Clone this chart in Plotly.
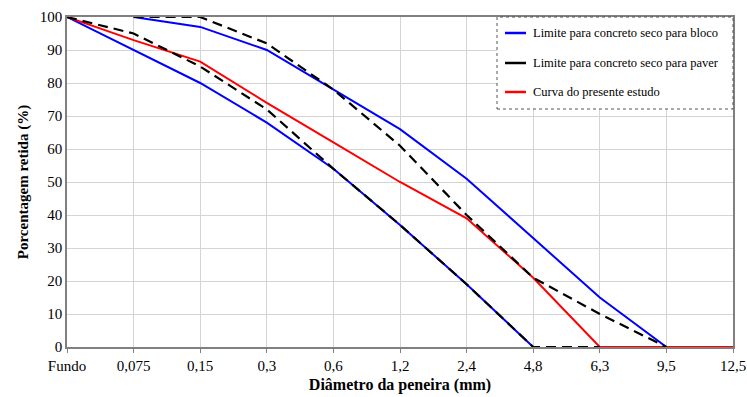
import plotly.graph_objects as go

categories = ["Fundo", "0,075", "0,15", "0,3", "0,6", "1,2", "2,4", "4,8", "6,3", "9,5", "12,5"]

bloco_sup_x = ["0,075", "0,15", "0,3", "0,6", "1,2", "2,4", "4,8", "6,3", "9,5"]
bloco_sup_y = [100, 97, 90, 78, 66, 51, 33, 15, 0]
bloco_inf_x = ["Fundo", "0,075", "0,15", "0,3", "0,6", "1,2", "2,4", "4,8"]
bloco_inf_y = [100, 90, 80, 68, 54, 37, 19, 0]

paver_sup_x = ["0,075", "0,15", "0,3", "0,6", "1,2", "2,4", "4,8", "6,3", "9,5"]
paver_sup_y = [100, 100, 92, 78, 61, 40, 21, 10, 0]
paver_inf_x = ["Fundo", "0,075", "0,15", "0,3", "0,6", "1,2", "2,4", "4,8", "6,3"]
paver_inf_y = [100, 95, 85, 72, 54, 37, 19, 0, 0]

estudo_x = categories
estudo_y = [100, 93, 86.5, 74, 62, 50, 39, 21, 0, 0, 0]

legend_labels = ["Limite para concreto seco para bloco",
                 "Limite para concreto seco para paver",
                 "Curva do presente estudo"]
BLUE = "#0000ff"
BLACK = "#000000"
RED = "#ff0000"
FONT = "Liberation Serif, Times New Roman, serif"

fig = go.Figure()
for xs, ys in [(bloco_sup_x, bloco_sup_y), (bloco_inf_x, bloco_inf_y)]:
    fig.add_trace(go.Scatter(x=xs, y=ys, mode="lines", line=dict(color=BLUE, width=2),
                             showlegend=False, cliponaxis=False))
fig.add_trace(go.Scatter(x=estudo_x, y=estudo_y, mode="lines", line=dict(color=RED, width=2),
                         showlegend=False, cliponaxis=False))
for xs, ys in [(paver_sup_x, paver_sup_y), (paver_inf_x, paver_inf_y)]:
    fig.add_trace(go.Scatter(x=xs, y=ys, mode="lines",
                             line=dict(color=BLACK, width=2.2, dash="10px,6px"),
                             showlegend=False, cliponaxis=False))

# manual legend box
W, H = 747, 397
L, R, T, B = 67, 14, 17, 50
pw, ph = W - L - R, H - T - B


def px(x):
    return (x - L) / pw


def py(y):
    return (H - B - y) / ph


fig.add_shape(type="rect", xref="paper", yref="paper",
              x0=px(497), x1=px(733), y0=py(109), y1=py(17),
              line=dict(color="#555555", width=1, dash="dot"), fillcolor="white", layer="above")
for i, (lab, col) in enumerate(zip(legend_labels, [BLUE, BLACK, RED])):
    yy = [33, 63, 92][i]
    fig.add_shape(type="line", xref="paper", yref="paper",
                  x0=px(505), x1=px(526), y0=py(yy), y1=py(yy),
                  line=dict(color=col, width=2.5), layer="above")
    fig.add_annotation(xref="paper", yref="paper", x=px(531), y=py(yy), text=lab,
                       showarrow=False, xanchor="left", yanchor="middle",
                       font=dict(family=FONT, size=12.5, color="black"))

fig.update_layout(
    width=W, height=H, margin=dict(l=L, r=R, t=T, b=B, autoexpand=False),
    paper_bgcolor="white", plot_bgcolor="white",
    font=dict(family=FONT, color="black", size=15),
    showlegend=False,
)
fig.update_xaxes(type="category", categoryorder="array", categoryarray=categories,
                 range=[0, 10], showgrid=True, gridcolor="#d4d4d4", gridwidth=1,
                 showline=True, linecolor="#808080", linewidth=1.5, mirror=True,
                 ticks="outside", ticklen=4, tickcolor="#808080", automargin=False,
                 tickfont=dict(family=FONT, size=15),
                 title=dict(text="<b>Diâmetro da peneira (mm)</b>", standoff=6,
                            font=dict(family=FONT, size=16)))
fig.update_yaxes(range=[0, 100], dtick=10, showgrid=True, gridcolor="#d4d4d4", gridwidth=1,
                 showline=True, linecolor="#808080", linewidth=1.5, mirror=True,
                 ticks="", automargin=False, tickfont=dict(family=FONT, size=15),
                 title=dict(text="<b>Porcentagem retida (%)</b>", standoff=8,
                            font=dict(family=FONT, size=15)))

fig.write_html("out.html")
